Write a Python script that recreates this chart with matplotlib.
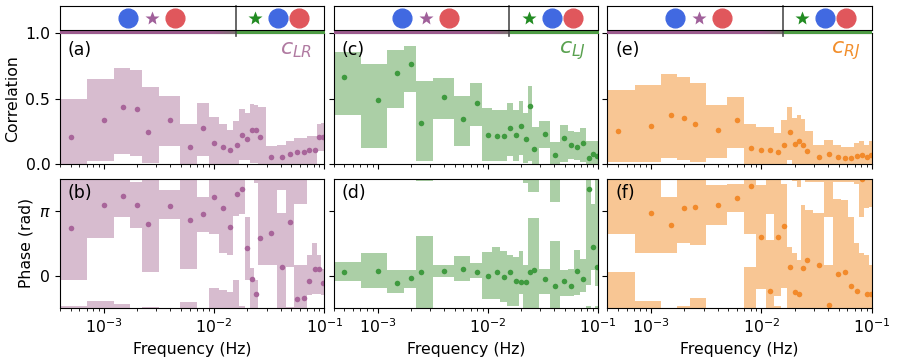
import numpy as np
import matplotlib
matplotlib.use('Agg')
import matplotlib.pyplot as plt
from matplotlib.colors import to_rgb

# frequencies of the bins (Hz), shared by every panel
freq = [0.0005, 0.001, 0.0015, 0.002, 0.0025, 0.004, 0.006, 0.008, 0.010, 0.012,
        0.014, 0.016, 0.018, 0.020, 0.022, 0.024, 0.026, 0.033, 0.041, 0.049,
        0.057, 0.065, 0.073, 0.082, 0.090, 0.098]

# (a) correlation L-R
corr_lr = [0.21, 0.34, 0.44, 0.42, 0.25, 0.34, 0.13, 0.28, 0.165, 0.13, 0.11, 0.145, 0.225,
           0.195, 0.265, 0.26, 0.21, 0.055, 0.056, 0.079, 0.092, 0.092, 0.112, 0.112, 0.208, 0.21]
corr_lr_lo = [0.0, 0.025, 0.076, 0.066, 0.01, 0.14, 0.0, 0.066, 0.0, 0.0, 0.0, 0.0, 0.03,
              0.03, 0.01, 0.01, 0.0, 0.0, 0.0, 0.0, 0.0, 0.0, 0.0, 0.0, 0.1, 0.1]
corr_lr_hi = [0.50, 0.65, 0.733, 0.717, 0.588, 0.524, 0.305, 0.47, 0.359, 0.31, 0.26, 0.33, 0.42,
              0.395, 0.458, 0.45, 0.44, 0.142, 0.145, 0.178, 0.198, 0.20, 0.215, 0.215, 0.31, 0.315]

# (b) phase L-R
phase_lr = [2.32, 3.43, 3.88, 3.43, 2.51, 3.40, 2.70, 3.00, 3.85, 3.30, 2.36, 3.97, 4.21,
            1.36, -0.16, -0.90, 1.84, 2.06, 0.44, 2.62, -1.13, -1.08, -0.29, 0.33, 0.34, -0.35]
phase_lr_lo = [-0.24, 1.81, 2.86, 2.30, 0.19, 2.74, 0.33, 2.14, 2.01, 1.09, 1.0, 2.9, 3.0,
               -0.21, -1.6, -1.79, 0.5, 0.52, -2.12, 0.4, -2.77, -2.8, -0.95, -0.9, -0.9, -0.94]
phase_lr_hi = [4.81, 5.02, 4.89, 4.56, 4.75, 4.16, 4.99, 3.84, 5.67, 5.59, 5.5, 6.07, 4.8,
               2.86, 0.36, -0.21, 4.66, 4.66, 3.03, 4.75, 0.52, 0.5, 1.0, 1.6, 1.0, 0.3]

# (c) correlation L-J
corr_lj = [0.664, 0.491, 0.695, 0.768, 0.313, 0.514, 0.346, 0.47, 0.226, 0.216, 0.216, 0.28, 0.223,
           0.29, 0.19, 0.443, 0.114, 0.231, 0.071, 0.2, 0.145, 0.132, 0.165, 0.046, 0.079, 0.063]
corr_lj_lo = [0.376, 0.122, 0.427, 0.55, 0.025, 0.346, 0.142, 0.29, 0.025, 0.025, 0.025, 0.064, 0.025,
              0.07, 0.01, 0.025, 0.0, 0.122, 0.0, 0.02, 0.04, 0.03, 0.02, 0.0, 0.0, 0.0]
corr_lj_hi = [0.855, 0.763, 0.873, 0.903, 0.636, 0.656, 0.521, 0.62, 0.427, 0.414, 0.414, 0.47, 0.414,
              0.486, 0.389, 0.6, 0.282, 0.33, 0.172, 0.3, 0.254, 0.244, 0.275, 0.178, 0.178, 0.178]

# (d) phase L-J
phase_lj = [0.19, 0.24, -0.37, -0.13, 0.15, 0.24, 0.34, 0.18, -0.01, 0.15, -0.08, 0.16, -0.27,
            -0.34, -0.34, 0.16, 0.29, -0.18, -0.53, -0.29, -0.53, 0.23, -0.19, 4.21, 1.38, 0.44]
phase_lj_lo = [-0.29, -0.61, -0.83, -0.6, -1.67, -0.08, -0.29, -0.1, -1.15, -1.15, -1.31, -1.47, -1.5,
               -0.9, -1.79, -2.2, -2.2, -0.9, -2.69, -1.0, -1.0, -0.95, -0.8, -0.45, 0.28, -0.5]
phase_lj_hi = [0.68, 1.09, 0.28, 0.28, 1.93, 0.52, 0.96, 0.63, 1.17, 1.38, 1.2, 1.0, 0.9,
               1.21, 0.52, 2.79, 2.79, 0.3, 1.68, 0.28, 0.3, 1.25, 0.8, 4.8, 3.51, 4.8]

# (e) correlation R-J
corr_rj = [0.254, 0.29, 0.379, 0.351, 0.305, 0.26, 0.336, 0.127, 0.112, 0.112, 0.092, 0.147, 0.244,
           0.157, 0.18, 0.147, 0.099, 0.057, 0.079, 0.055, 0.048, 0.048, 0.065, 0.073, 0.056, 0.073]
corr_rj_lo = [0.015, 0.02, 0.046, 0.03, 0.02, 0.046, 0.127, 0.0, 0.0, 0.0, 0.0, 0.0, 0.033,
              0.0, 0.0, 0.0, 0.0, 0.0, 0.0, 0.0, 0.0, 0.0, 0.0, 0.0, 0.0, 0.0]
corr_rj_hi = [0.567, 0.605, 0.689, 0.664, 0.623, 0.453, 0.516, 0.305, 0.282, 0.282, 0.236, 0.338, 0.44,
              0.351, 0.376, 0.345, 0.252, 0.148, 0.185, 0.145, 0.132, 0.13, 0.165, 0.175, 0.148, 0.175]

# (f) phase R-J
phase_rj = [np.nan, 3.03, 2.46, 3.30, 3.35, 3.42, 3.79, 4.37, 1.89, -0.76, 1.86, 2.43, 0.42,
            -0.81, -0.92, 0.36, 0.75, 0.49, -1.44, 0.07, 0.17, -0.53, -0.76, 4.69, -0.89, -0.92]
phase_rj_lo = [2.01, 1.09, 1.09, 1.6, 1.49, 2.46, 3.1, 2.01, -0.66, 2.98, -1.02, -0.6, -1.6,
               -1.65, -1.96, -1.6, -1.7, -1.7, 2.86, -1.7, -1.7, -1.7, -1.8, 2.86, 3.3, 3.35]
phase_rj_hi = [6.47, 5.02, 3.84, 4.8, 5.18, 4.40, 4.45, 6.72, 4.40, 8.0, 4.8, 4.45, 1.4,
               1.09, 0.76, 3.43, 3.2, 3.03, 6.8, 3.76, 3.7, 2.86, 1.57, 7.37, 7.3, 6.8]

names = [r'$c_{LR}$', r'$c_{LJ}$', r'$c_{RJ}$']
band_colors = ['#b07aa1', '#59a14f', '#f28e2b']
dot_colors = ['#a8659a', '#3f9a3f', '#f28a2b']
text_colors = ['#b07aa1', '#59a14f', '#f28e2b']

f_split = 0.0157
xlim = (4e-4, 0.1)


def bin_edges(f):
    f = np.asarray(f)
    mid = np.sqrt(f[:-1] * f[1:])
    return np.r_[f[0] ** 2 / mid[0], mid, f[-1] ** 2 / mid[-1]]


def draw_band(ax, f, lo, hi, color, shifts=(0.0,)):
    # one rectangle per frequency bin, repeated at +-2pi for wrapped phases
    e = bin_edges(f)
    lo = np.asarray(lo, dtype=float)
    hi = np.asarray(hi, dtype=float)
    for s in shifts:
        ax.bar(e[:-1], hi - lo, width=np.diff(e), bottom=lo + s, align='edge',
               color=color, alpha=0.5, lw=0, antialiased=False)


W, H = 897, 359
plt.rcParams['font.size'] = 11.3
fig = plt.figure(figsize=(W / 100, H / 100), dpi=100)

lefts = [60, 333.7, 607.3]
width = 264.4

corr_data = [(corr_lr, corr_lr_lo, corr_lr_hi), (corr_lj, corr_lj_lo, corr_lj_hi),
             (corr_rj, corr_rj_lo, corr_rj_hi)]
phase_data = [(phase_lr, phase_lr_lo, phase_lr_hi), (phase_lj, phase_lj_lo, phase_lj_hi),
              (phase_rj, phase_rj_lo, phase_rj_hi)]
letters = [('(a)', '(b)'), ('(c)', '(d)'), ('(e)', '(f)')]

purple_bar = np.array(to_rgb('#9c5b8e'))
gray_bar = np.array(to_rgb('#7a7470'))
green_bar = np.array(to_rgb('#4f9d45'))

for i in range(3):
    x0 = lefts[i] / W
    w = width / W

    # top strip with symbols
    strip = fig.add_axes([x0, 1 - 30.3 / H, w, 24.3 / H])
    strip.set_xscale('log')
    strip.set_xlim(xlim)
    strip.set_ylim(0, 1)
    strip.set_xticks([])
    strip.set_yticks([])
    strip.minorticks_off()
    strip.axvline(f_split, ymin=-0.22, ymax=1, clip_on=False, color='0.3', lw=1.2)
    strip.plot(0.257, 0.5, 'o', ms=13.5, color='#4169e1', transform=strip.transAxes)
    strip.plot(0.348, 0.5, '*', ms=10, color='#a0609a', mec='none', transform=strip.transAxes)
    strip.plot(0.435, 0.5, 'o', ms=13.5, color='#e0575c', transform=strip.transAxes)
    strip.plot(0.738, 0.5, '*', ms=10, color='#228b22', mec='none', transform=strip.transAxes)
    strip.plot(0.825, 0.5, 'o', ms=13.5, color='#4169e1', transform=strip.transAxes)
    strip.plot(0.904, 0.5, 'o', ms=13.5, color='#e0575c', transform=strip.transAxes)
    strip.set_zorder(5)

    # coloured bar below the strip
    bar = fig.add_axes([x0, 1 - 33.8 / H, w, 3.6 / H])
    bar.set_axis_off()
    fx = np.logspace(np.log10(xlim[0]), np.log10(xlim[1]), 400)
    t = np.clip((np.log10(fx) - np.log10(0.01)) / (np.log10(f_split) - np.log10(0.01)), 0, 1)
    cols = purple_bar[None, :] * (1 - t[:, None]) + gray_bar[None, :] * t[:, None]
    cols[fx >= f_split] = green_bar
    bar.imshow(cols[None, :, :], aspect='auto', extent=[0, 1, 0, 1], interpolation='nearest')
    bar.set_xlim(0, 1)
    bar.set_ylim(0, 1)
    bar.set_zorder(4)

    # correlation panel
    axc = fig.add_axes([x0, 1 - 164.3 / H, w, 131 / H])
    c, lo, hi = corr_data[i]
    draw_band(axc, freq, lo, hi, band_colors[i])
    axc.plot(freq, c, 'o', ms=4, color=dot_colors[i], mec='none')
    axc.set_xscale('log')
    axc.set_xlim(xlim)
    axc.set_ylim(0, 1)
    axc.set_yticks([0, 0.5, 1.0])
    axc.tick_params(labelbottom=False)
    axc.text(0.03, 0.87, letters[i][0], transform=axc.transAxes, fontsize=12.5, va='center')
    axc.text(0.955, 0.87, names[i], transform=axc.transAxes, fontsize=16, ha='right',
             va='center', color=text_colors[i])

    # phase panel
    axp = fig.add_axes([x0, 1 - 307.7 / H, w, 128.7 / H])
    p, plo, phi = phase_data[i]
    draw_band(axp, freq, plo, phi, band_colors[i], shifts=(-2 * np.pi, 0.0, 2 * np.pi))
    axp.plot(freq, p, 'o', ms=4, color=dot_colors[i], mec='none')
    axp.set_xscale('log')
    axp.set_xlim(xlim)
    axp.set_ylim(-np.pi / 2, 3 * np.pi / 2)
    axp.set_yticks([0, np.pi])
    axp.set_yticklabels(['0', r'$\pi$'])
    axp.set_xlabel('Frequency (Hz)')
    axp.text(0.03, 0.89, letters[i][1], transform=axp.transAxes, fontsize=12.5, va='center')

    if i == 0:
        axc.set_ylabel('Correlation')
        axp.set_ylabel('Phase (rad)')
    else:
        axc.tick_params(labelleft=False)
        axp.tick_params(labelleft=False)

fig.savefig('out.png', dpi=100)
